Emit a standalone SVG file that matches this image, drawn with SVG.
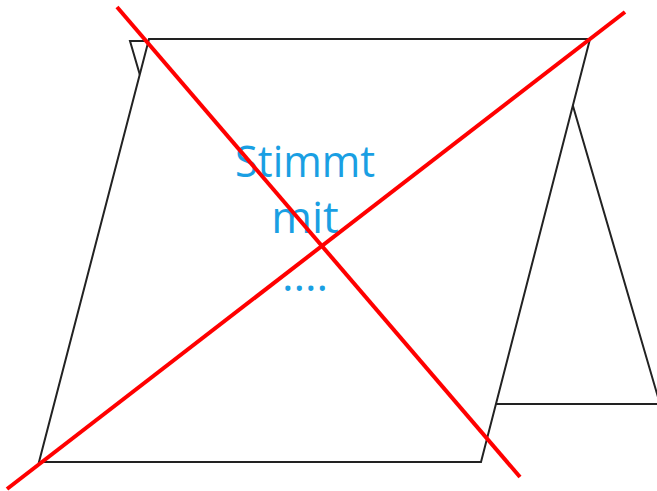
<svg xmlns="http://www.w3.org/2000/svg" width="657" height="491" viewBox="0 0 657 491">
<style>
.shape{fill:#fff;stroke:#222;stroke-width:2;stroke-linejoin:miter}
.cross{stroke:#f00;stroke-width:4;fill:none}
.lbl{font-family:"Open Sans","Noto Sans",sans-serif;font-size:44px;fill:#1a9fe3;text-anchor:middle}
</style>
<g id="back-card">
<polygon class="shape" points="130,41 554,41 660,404 236,404"/>
</g>
<g id="front-card">
<polygon class="shape" points="149,39 590,39 481,462 39,462"/>
<text class="lbl" x="305" y="177" textLength="140" lengthAdjust="spacingAndGlyphs">Stimmt</text>
<text class="lbl" x="305" y="233">mit</text>
<text class="lbl" x="305" y="291">....</text>
</g>
<g id="connectors">
<line class="cross" x1="117" y1="7" x2="520" y2="477"/>
<line class="cross" x1="625" y1="12" x2="7" y2="489"/>
</g>
</svg>
